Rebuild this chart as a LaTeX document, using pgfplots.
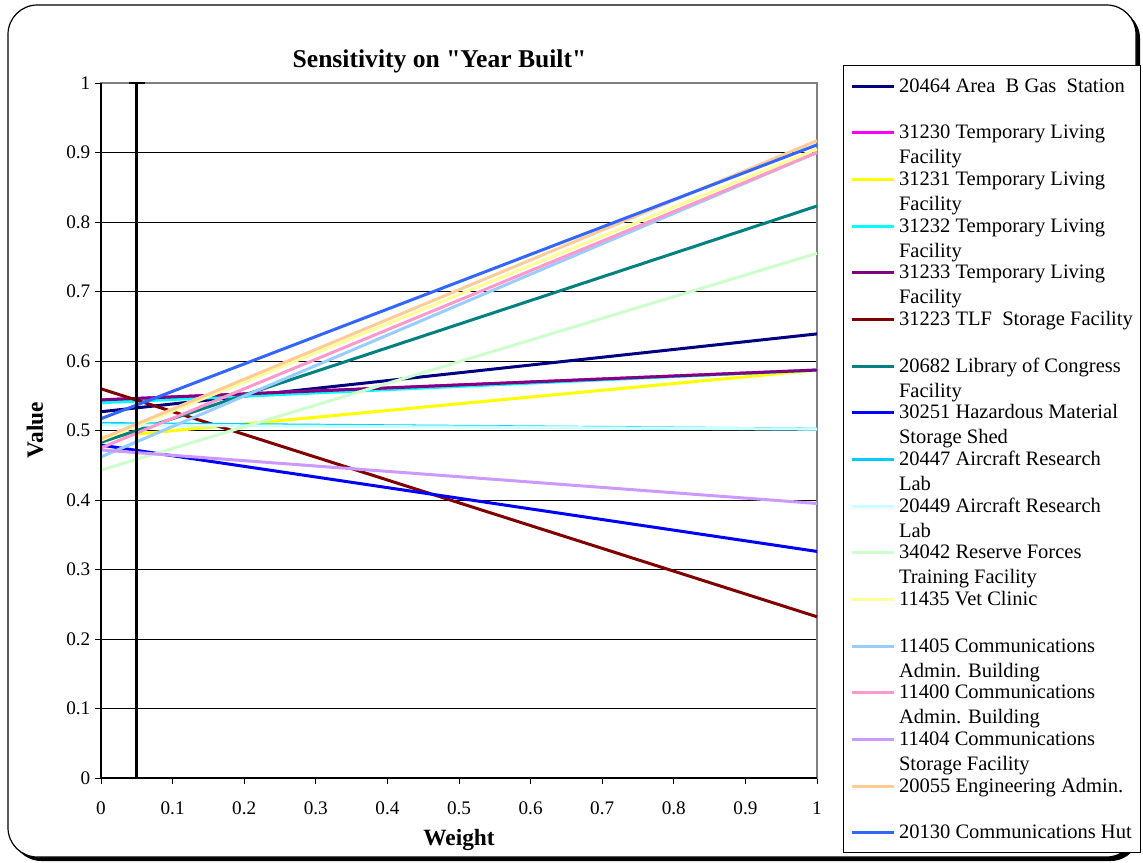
\documentclass[border=0pt]{standalone}
\usepackage{pgfplots}
\pgfplotsset{compat=1.18}
\usepackage{fontspec}
\setmainfont{Liberation Serif}
\definecolor{cNavy}{HTML}{000080}
\definecolor{cMag}{HTML}{FF00FF}
\definecolor{cYel}{HTML}{FFFF00}
\definecolor{cCyan}{HTML}{00FFFF}
\definecolor{cPurp}{HTML}{800080}
\definecolor{cDRed}{HTML}{800000}
\definecolor{cTeal}{HTML}{008080}
\definecolor{cBlue}{HTML}{0000FF}
\definecolor{cSky}{HTML}{00CCFF}
\definecolor{cLCyan}{HTML}{CCFFFF}
\definecolor{cLGreen}{HTML}{CCFFCC}
\definecolor{cLYel}{HTML}{FFFF99}
\definecolor{cLBlue}{HTML}{99CCFF}
\definecolor{cPink}{HTML}{FF99CC}
\definecolor{cLav}{HTML}{CC99FF}
\definecolor{cPeach}{HTML}{FFCC99}
\definecolor{cRoyal}{HTML}{3366FF}
\newcommand{\legtxt}[2]{\makebox[176pt][l]{\rule[-4pt]{0pt}{15pt}\rlap{\raisebox{-18.75pt}[0pt][0pt]{#2}}#1}}
\begin{document}
\begin{tikzpicture}[x=0.75pt,y=-0.75pt]
\useasboundingbox (0,0) rectangle (1143,863);
\fill[black] (12,9) [rounded corners=22] rectangle (1140,861);
\draw[fill=white, rounded corners=22, line width=0.9pt] (8,5) rectangle (1136,857);
\node[font=\fontsize{19.2}{23}\selectfont\bfseries] at (439.5,61) {Sensitivity on \textquotedbl Year Built\textquotedbl};
\node[font=\fontsize{17.5}{21}\selectfont\bfseries] at (459,840) {Weight};
\node[font=\fontsize{17.5}{21}\selectfont\bfseries, rotate=90] at (35,430) {Value};
\begin{axis}[
  at={(75.75pt,-583.5pt)}, anchor=south west,
  scale only axis, width=537pt, height=521.25pt,
  xmin=0, xmax=1, ymin=0, ymax=1,
  xtick={0,0.1,...,1}, ytick={0,0.1,...,1},
  tick pos=left, tick align=outside, major tick length=4.5pt,
  tick style={black, line width=0.7pt},
  axis line style={draw=gray, line width=0.9pt},
  ymajorgrids, grid style={black, line width=0.7pt},
  ticklabel style={font=\fontsize{14.4}{17}\selectfont},
  xticklabel style={yshift=-10pt},
  /pgf/number format/assume math mode=true,
  clip=false,
  legend style={at={(1.0363,1.0259)}, anchor=north west, draw=black, line width=0.6pt,
    fill=white, font=\fontsize{15.4}{19}\selectfont, inner xsep=5pt, inner ysep=9pt,
    row sep=22.5pt, column sep=3pt, nodes={inner sep=0pt}, cells={anchor=base west}},
  legend image code/.code={\draw[#1] (0pt,4.5pt) -- (31.5pt,4.5pt);},
  every axis plot/.append style={line width=2.25pt},
]
\addplot[cNavy] coordinates {(0,0.527) (1,0.639)};
\addlegendentry{\legtxt{20464 Area\ \ B Gas\ \ Station}{}}
\addplot[cMag] coordinates {(0,0.544) (1,0.587)};
\addlegendentry{\legtxt{31230 Temporary Living}{Facility}}
\addplot[cYel] coordinates {(0,0.490) (1,0.587)};
\addlegendentry{\legtxt{31231 Temporary Living}{Facility}}
\addplot[cCyan] coordinates {(0,0.540) (1,0.587)};
\addlegendentry{\legtxt{31232 Temporary Living}{Facility}}
\addplot[cPurp] coordinates {(0,0.544) (1,0.587)};
\addlegendentry{\legtxt{31233 Temporary Living}{Facility}}
\addplot[cDRed] coordinates {(0,0.560) (1,0.232)};
\addlegendentry{\legtxt{31223 TLF\ \ Storage Facility}{}}
\addplot[cTeal] coordinates {(0,0.483) (1,0.823)};
\addlegendentry{\legtxt{20682 Library of Congress}{Facility}}
\addplot[cBlue] coordinates {(0,0.479) (1,0.326)};
\addlegendentry{\legtxt{30251 Hazardous Material}{Storage Shed}}
\addplot[cSky] coordinates {(0,0.510) (1,0.502)};
\addlegendentry{\legtxt{20447 Aircraft Research}{Lab}}
\addplot[cLCyan] coordinates {(0,0.508) (1,0.502)};
\addlegendentry{\legtxt{20449 Aircraft Research}{Lab}}
\addplot[cLGreen] coordinates {(0,0.443) (1,0.755)};
\addlegendentry{\legtxt{34042 Reserve Forces}{Training Facility}}
\addplot[cLYel] coordinates {(0,0.486) (1,0.905)};
\addlegendentry{\legtxt{11435 Vet Clinic}{}}
\addplot[cLBlue] coordinates {(0,0.462) (1,0.900)};
\addlegendentry{\legtxt{11405 Communications}{Admin. Building}}
\addplot[cPink] coordinates {(0,0.475) (1,0.900)};
\addlegendentry{\legtxt{11400 Communications}{Admin. Building}}
\addplot[cLav] coordinates {(0,0.472) (1,0.395)};
\addlegendentry{\legtxt{11404 Communications}{Storage Facility}}
\addplot[cPeach] coordinates {(0,0.488) (1,0.917)};
\addlegendentry{\legtxt{20055 Engineering Admin.}{}}
\addplot[cRoyal] coordinates {(0,0.517) (1,0.911)};
\addlegendentry{\legtxt{20130 Communications Hut}{}}
\addplot[black, line width=2.2pt, forget plot, mark=none,
  error bars/.cd, y dir=both, y explicit,
  error bar style={line width=2.2pt},
  error mark options={rotate=90, mark size=6pt, line width=2.2pt}]
  coordinates {(0.05,0.5) +- (0,0.5)};
\draw[black, line width=0.9pt] (axis cs:0,1) -- (axis cs:0,0) -- (axis cs:1,0);
\end{axis}
\end{tikzpicture}
\end{document}
